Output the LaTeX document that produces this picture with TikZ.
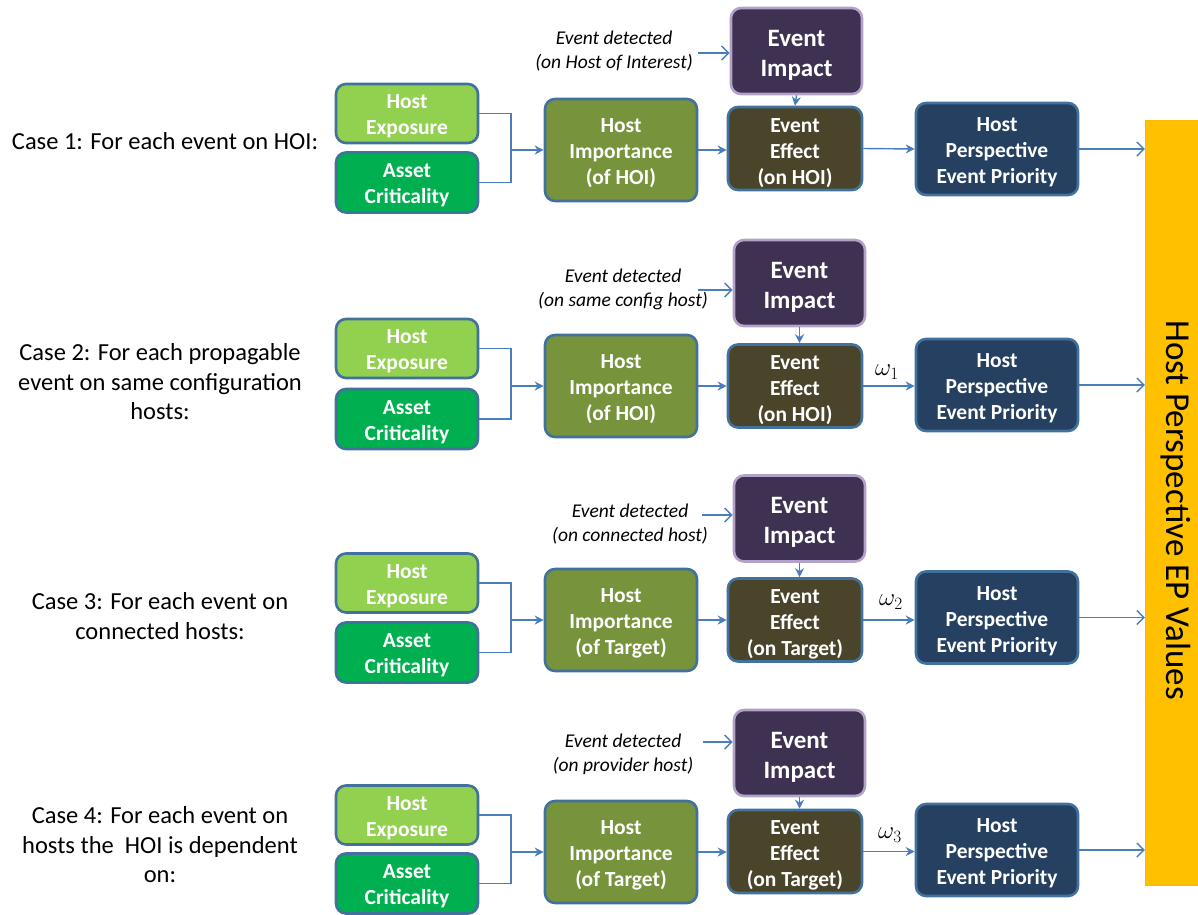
\documentclass[tikz,border=0pt]{standalone}
\usepackage{fontspec}
\setmainfont{Carlito}
\usetikzlibrary{arrows.meta,positioning}
\definecolor{arrblue}{HTML}{4A7EBB}
\definecolor{bordblue}{HTML}{41719C}
\definecolor{heG}{HTML}{92D050}
\definecolor{acG}{HTML}{00B050}
\definecolor{hiG}{HTML}{77933C}
\definecolor{eeB}{HTML}{4A452A}
\definecolor{hpN}{HTML}{254061}
\definecolor{eiP}{HTML}{3F3151}
\definecolor{eiL}{HTML}{B3A2C7}
\definecolor{barY}{HTML}{FFC000}
\newcommand\Ts[1]{\rule{0pt}{#1}}
\tikzset{
  box/.style={draw=bordblue, line width=2.6pt, rounded corners=10pt, text=white,
    font=\bfseries\fontsize{21.5}{26}\selectfont, align=center, inner sep=0pt},
  hebox/.style={box, fill=heG, minimum width=142pt, minimum height=59pt},
  acbox/.style={box, fill=acG, minimum width=142pt, minimum height=60pt},
  hibox/.style={box, fill=hiG, minimum width=152pt, minimum height=102pt},
  eebox/.style={box, fill=eeB, minimum width=134pt, minimum height=83pt},
  hpbox/.style={box, fill=hpN, minimum width=162pt, minimum height=92pt},
  eibox/.style={box, draw=eiL, fill=eiP, minimum width=131pt, minimum height=86pt,
    font=\bfseries\fontsize{25}{30}\selectfont},
  casetxt/.style={align=center, font=\fontsize{24.5}{29.5}\selectfont, inner sep=0pt},
  edtxt/.style={align=center, font=\itshape\fontsize{19.5}{24}\selectfont, inner sep=0pt},
  omtxt/.style={font=\fontsize{25}{28}\selectfont, inner sep=0pt},
  conn/.style={draw=arrblue, line width=1.4pt},
  arr/.style={conn, -{Stealth[length=9pt,width=9pt]}},
  barb/.style={conn, -{Straight Barb[length=7pt,width=14pt,line width=1.4pt]}},
}
\begin{document}
\begin{tikzpicture}[x=1pt,y=-1pt]
\useasboundingbox (0,0) rectangle (1198,914);
% bar
\node[fill=barY, draw=barY!90!orange, minimum width=53pt, minimum height=765pt, inner sep=0pt] (bar) at (1171.5,502.5) {};
\node[rotate=-90, font=\fontsize{35}{40}\selectfont, inner sep=0pt] (bartxt) at (1176,510) {Host Perspective EP Values};

% ---------- Row 1
\node[casetxt] (c1) at (165,141) {Case 1: For each event on HOI:};
\node[hebox] (he1) at (407,113.5) {\Ts{20pt}Host\\Exposure};
\node[acbox] (ac1) at (407,182.5) {\Ts{20pt}Asset\\Criticality};
\node[hibox] (hi1) at (621,150) {\Ts{20pt}Host\\Importance\\(of HOI)};
\node[eibox] (ei1) at (796.5,51) {\Ts{24pt}Event\\Impact};
\node[eebox] (ee1) at (795,148.5) {\Ts{22.5pt}Event\\Effect\\(on HOI)};
\node[hpbox] (hp1) at (997,149) {\Ts{21pt}Host\\Perspective\\Event Priority};
\node[edtxt] (ed1) at (614,50) {\Ts{16.5pt}Event detected\\(on Host of Interest)};
\coordinate (j1) at (511,150);
\coordinate (s1) at (698,53);
\draw[conn] (he1.east) -| (j1) |- (ac1.east);
\draw[arr] (j1) -- (hi1.west);
\draw[arr] (hi1.east) -- (ee1.west |- hi1.east);
\draw[arr] (ee1.east) -- (hp1.west);
\draw[arr] (ei1.south) -- (ee1.north);
\draw[barb] (s1) -- (ei1.west |- s1);
\draw[barb] (hp1.east) -- (hp1.east -| bar.west);

% ---------- Row 2
\node[casetxt] (c2) at (160,382) {Case 2: For each propagable\\event on same configuration\\hosts:};
\node[hebox] (he2) at (407,348.5) {\Ts{20pt}Host\\Exposure};
\node[acbox] (ac2) at (407,419) {\Ts{20pt}Asset\\Criticality};
\node[hibox] (hi2) at (621,386) {\Ts{20pt}Host\\Importance\\(of HOI)};
\node[eibox] (ei2) at (799.5,283) {\Ts{24pt}Event\\Impact};
\node[eebox] (ee2) at (795,386) {\Ts{22.5pt}Event\\Effect\\(on HOI)};
\node[hpbox] (hp2) at (997,385) {\Ts{21pt}Host\\Perspective\\Event Priority};
\node[edtxt] (ed2) at (623,288) {\Ts{16.5pt}Event detected\\(on same config host)};
\node[omtxt] (w1) at (887,372) {$\omega_1$};
\coordinate (j2) at (511,386);
\coordinate (s2) at (698,290);
\draw[conn] (he2.east) -| (j2) |- (ac2.east);
\draw[arr] (j2) -- (hi2.west);
\draw[arr] (hi2.east) -- (ee2.west);
\draw[arr] (ee2.east) -- (hp2.west |- ee2.east);
\draw[arr] (ei2.south) -- (ei2.south |- ee2.north);
\draw[barb] (s2) -- (ei2.west |- s2);
\draw[barb] (hp2.east) -- (hp2.east -| bar.west);

% ---------- Row 3
\node[casetxt] (c3) at (160,616) {Case 3: For each event on\\connected hosts:};
\node[hebox] (he3) at (407,583) {\Ts{20pt}Host\\Exposure};
\node[acbox] (ac3) at (407,652.5) {\Ts{20pt}Asset\\Criticality};
\node[hibox] (hi3) at (621,620) {\Ts{20pt}Host\\Importance\\(of Target)};
\node[eibox] (ei3) at (799.5,518.5) {\Ts{24pt}Event\\Impact};
\node[eebox] (ee3) at (795,620) {\Ts{22.5pt}Event\\Effect\\(on Target)};
\node[hpbox] (hp3) at (997,617.5) {\Ts{21pt}Host\\Perspective\\Event Priority};
\node[edtxt] (ed3) at (630,523) {\Ts{16.5pt}Event detected\\(on connected host)};
\node[omtxt] (w2) at (891,602) {$\omega_2$};
\coordinate (j3) at (511,620);
\coordinate (s3) at (702,515);
\draw[conn] (he3.east) -| (j3) |- (ac3.east);
\draw[arr] (j3) -- (hi3.west);
\draw[arr] (hi3.east) -- (ee3.west);
\draw[arr] (ee3.east) -- (hp3.west |- ee3.east);
\draw[arr] (ei3.south) -- (ei3.south |- ee3.north);
\draw[barb] (s3) -- (ei3.west |- s3);
\draw[barb] (hp3.east) -- (hp3.east -| bar.west);

% ---------- Row 4
\node[casetxt] (c4) at (160,845) {Case 4: For each event on\\hosts the\ \ HOI is dependent\\on:};
\node[hebox] (he4) at (407,815) {\Ts{20pt}Host\\Exposure};
\node[acbox] (ac4) at (407,883.5) {\Ts{20pt}Asset\\Criticality};
\node[hibox] (hi4) at (621,852) {\Ts{20pt}Host\\Importance\\(of Target)};
\node[eibox] (ei4) at (799.5,753) {\Ts{24pt}Event\\Impact};
\node[eebox] (ee4) at (795,851.5) {\Ts{22.5pt}Event\\Effect\\(on Target)};
\node[hpbox] (hp4) at (997,850) {\Ts{21pt}Host\\Perspective\\Event Priority};
\node[edtxt] (ed4) at (623,753) {\Ts{16.5pt}Event detected\\(on provider host)};
\node[omtxt] (w3) at (890,835) {$\omega_3$};
\coordinate (j4) at (511,852);
\coordinate (s4) at (703,742);
\draw[conn] (he4.east) -| (j4) |- (ac4.east);
\draw[arr] (j4) -- (hi4.west);
\draw[arr] (hi4.east) -- (ee4.west |- hi4.east);
\draw[arr] (ee4.east) -- (hp4.west |- ee4.east);
\draw[arr] (ei4.south) -- (ei4.south |- ee4.north);
\draw[barb] (s4) -- (ei4.west |- s4);
\draw[barb] (hp4.east) -- (hp4.east -| bar.west);
\end{tikzpicture}
\end{document}
